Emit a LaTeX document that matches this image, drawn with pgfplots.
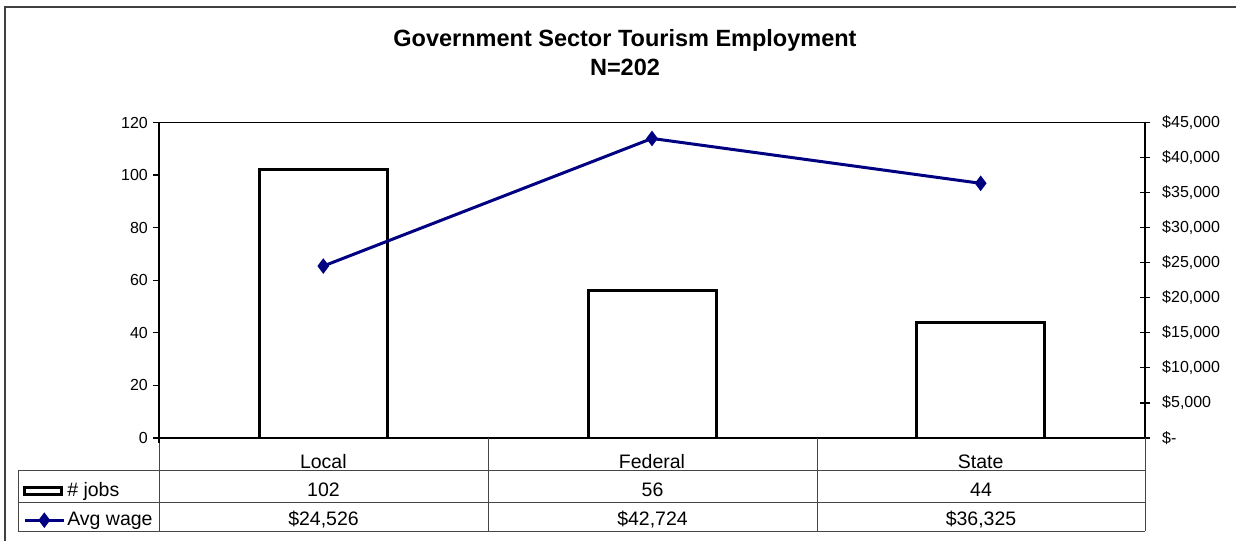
\documentclass[border=0pt]{standalone}
\usepackage{fontspec}
\setmainfont{Liberation Sans}
\usepackage{pgfplots}
\pgfplotsset{compat=1.18}
\definecolor{navyline}{RGB}{0,0,128}
\definecolor{tablegrey}{RGB}{70,70,70}

\begin{document}
\begin{tikzpicture}[x=1pt,y=1pt]
\useasboundingbox (0,0) rectangle (1236,541);
\fill[white] (0,0) rectangle (1236,541);
\draw[black!75, line width=1.5pt] (5,0) -- (5,534) -- (1236,534);

% title
\node[anchor=base, font=\bfseries\fontsize{23.5}{26}\selectfont] at (625,494) {Government Sector Tourism Employment};
\node[anchor=base, font=\bfseries\fontsize{23.5}{26}\selectfont] at (625,465) {N=202};

\begin{axis}[
  at={(159pt,103pt)}, anchor=south west,
  scale only axis, width=986pt, height=315.5pt,
  xmin=-0.5, xmax=2.5, ymin=0, ymax=120,
  xtick={0,1,2}, xticklabels={Local,Federal,State},
  xtick pos=bottom,
  x tick style={draw=none},
  xticklabel style={anchor=base, yshift=-24pt, font=\fontsize{19.5}{22}\selectfont},
  ytick={0,20,40,60,80,100,120},
  yticklabels={0,20,40,60,80,100,120},
  ytick pos=left, tick align=outside, major tick length=6pt,
  y tick style={line width=1.2pt, black},
  yticklabel style={anchor=east, inner sep=0pt, xshift=-5pt, font=\fontsize{16}{18}\selectfont},
  axis line style={line width=1.2pt},
]
\addplot[ybar, bar width=128pt, fill=white, draw=black, line width=3pt] coordinates {(0,102) (1,56) (2,44)};
\end{axis}

\begin{axis}[
  at={(159pt,103pt)}, anchor=south west,
  scale only axis, width=986pt, height=315.5pt,
  xmin=-0.5, xmax=2.5, ymin=0, ymax=45000,
  hide x axis,
  scaled y ticks=false,
  ytick={0,5000,10000,15000,20000,25000,30000,35000,40000,45000},
  yticklabels={{\$-},{\$5,000},{\$10,000},{\$15,000},{\$20,000},{\$25,000},{\$30,000},{\$35,000},{\$40,000},{\$45,000}},
  ytick pos=right, tick align=center, major tick length=10pt,
  y tick style={line width=1.2pt, black},
  yticklabel style={anchor=west, inner sep=0pt, xshift=12pt, font=\fontsize{16}{18}\selectfont},
  axis line style={line width=1.2pt},
  legend style={at={(axis description cs:-0.1379,-0.1395)}, anchor=north west,
    draw=none, fill=none, inner sep=0pt,
    font=\fontsize{19.5}{22}\selectfont,
    row sep=11pt,
    nodes={inner sep=0pt, text height=14pt, text depth=4pt},
    /tikz/every odd column/.append style={column sep=2pt}},
  legend cell align=left,
]
\addlegendimage{legend image code/.code={\draw[black, line width=3.2pt] (0pt,-3.5pt) rectangle (37pt,4pt);}}
\addlegendentry{\# jobs}
\addplot[navyline, line width=3pt, mark=diamond*, mark size=7pt,
  mark options={solid, fill=navyline, line width=1pt},
  legend image code/.code={\draw[mark repeat=2, mark phase=2] plot coordinates {(0pt,0pt) (19.5pt,0pt) (39pt,0pt)};}]
  coordinates {(0,24526) (1,42724) (2,36325)};
\addlegendentry{Avg wage}
\end{axis}

% data table
\begin{scope}[tablegrey, line width=1pt]
\draw (159,103) -- (159,10);
\draw (488,103) -- (488,10);
\draw (817,103) -- (817,10);
\draw (1145,103) -- (1145,10);
\draw (18,71) -- (18,10);
\draw (18,71) -- (1145,71);
\draw (18,39) -- (1145,39);
\draw (18,10) -- (1145,10);
\end{scope}
\draw[black, line width=1.2pt] (159,103) -- (159,98);

\begin{scope}[font=\fontsize{19.5}{22}\selectfont]
\node[anchor=base] at (323.5,45) {102};
\node[anchor=base] at (652.5,45) {56};
\node[anchor=base] at (981,45) {44};
\node[anchor=base] at (323.5,16) {\$24,526};
\node[anchor=base] at (652.5,16) {\$42,724};
\node[anchor=base] at (981,16) {\$36,325};
\end{scope}
\end{tikzpicture}
\end{document}
